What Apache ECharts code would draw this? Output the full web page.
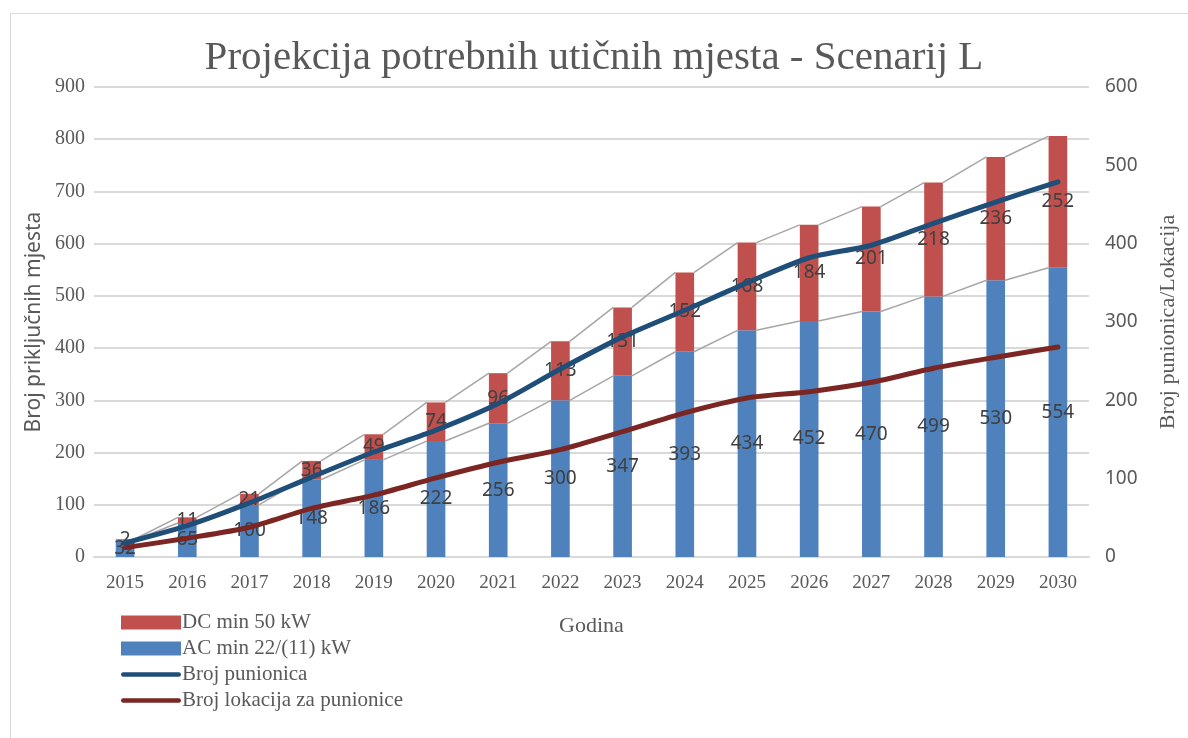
<!DOCTYPE html>
<html>
<head>
<meta charset="utf-8">
<script src="https://cdn.jsdelivr.net/npm/echarts@6/dist/echarts.min.js"></script>
<style>
html,body{margin:0;padding:0;background:#fff;}
#chart{width:1188px;height:738px;}
</style>
</head>
<body>
<div id="chart"></div>
<script>
const years = ['2015','2016','2017','2018','2019','2020','2021','2022','2023','2024','2025','2026','2027','2028','2029','2030'];
const acValues = [32,65,100,148,186,222,256,300,347,393,434,452,470,499,530,554];
const dcValues = [2,11,21,36,49,74,96,113,131,152,168,184,201,218,236,252];
const punioniceValues = [18,40,69,102,134,162,196,240,281,315,350,382,398,426,453,479];
const lokacijeValues = [12,24,38,62,79,101,121,137,160,184,203,211,223,241,255,268];
const leftTicks = [0,100,200,300,400,500,600,700,800,900];
const rightTicks = [0,100,200,300,400,500,600];

const totals = acValues.map((v,i)=>v+dcValues[i]);
const seriesLineData = years.slice(0,-1).map((y,i)=>[i, acValues[i], totals[i], acValues[i+1], totals[i+1]]);
const BAR_FRAC = 0.30;

const chart = echarts.init(document.getElementById('chart'));
const serif = 'Liberation Serif';
const grey = '#595959';
const lineIcon = 'path://M4.5,0 L115.5,0 A4.5,4.5 0 0 1 115.5,9 L4.5,9 A4.5,4.5 0 0 1 4.5,0 Z';

chart.setOption({
  animation:false,
  backgroundColor:'#fff',
  graphic:[{type:'rect',shape:{x:10.5,y:13.5,width:1200,height:800},style:{fill:'none',stroke:'#d9d9d9',lineWidth:1},silent:true,z:-10}],
  title:{text:'Projekcija potrebnih utičnih mjesta - Scenarij L',left:'center',top:33,
    textStyle:{fontFamily:serif,fontSize:41,fontWeight:'normal',color:grey}},
  grid:{left:94,right:99,top:87,bottom:181},
  legend:{orient:'vertical',left:116,top:607,itemWidth:60,itemHeight:14,itemGap:5,symbolKeepAspect:true,
    data:[{name:'DC min 50 kW',icon:'rect'},{name:'AC min 22/(11) kW',icon:'rect'},
          {name:'Broj punionica',icon:lineIcon},{name:'Broj lokacija za punionice',icon:lineIcon}],
    textStyle:{fontFamily:serif,fontSize:21,color:grey,padding:[0,0,0,-4]}},
  xAxis:{type:'category',data:years,
    axisLine:{lineStyle:{color:'#d9d9d9',width:2}},axisTick:{show:false},
    axisLabel:{fontFamily:serif,fontSize:19,color:grey,margin:17},
    name:'Godina',nameLocation:'middle',nameGap:58,
    nameTextStyle:{fontFamily:serif,fontSize:22,color:grey}},
  yAxis:[
    {type:'value',min:leftTicks[0],max:leftTicks[leftTicks.length-1],interval:leftTicks[1]-leftTicks[0],
     axisLabel:{fontFamily:serif,fontSize:20,color:grey,margin:9},
     splitLine:{lineStyle:{color:'#d9d9d9',width:2}},axisLine:{show:false},axisTick:{show:false},
     name:'Broj priključnih mjesta',nameLocation:'middle',nameGap:44,
     nameTextStyle:{fontFamily:'Noto Sans',fontSize:21,color:grey}},
    {type:'value',min:rightTicks[0],max:rightTicks[rightTicks.length-1],interval:rightTicks[1]-rightTicks[0],
     axisLabel:{fontFamily:'Noto Sans',fontSize:19,color:grey,margin:16},
     splitLine:{show:false},axisLine:{show:false},axisTick:{show:false},
     name:'Broj punionica/Lokacija',nameLocation:'middle',nameGap:68,nameRotate:90,
     nameTextStyle:{fontFamily:serif,fontSize:22,color:grey}}
  ],
  series:[
    {name:'AC min 22/(11) kW',type:'bar',stack:'s',data:acValues,barWidth:(BAR_FRAC*100)+'%',
     itemStyle:{color:'#4f81bd'},
     label:{show:true,position:'inside',fontFamily:'Noto Sans',fontSize:19,color:'#404040'}},
    {name:'DC min 50 kW',type:'bar',stack:'s',data:dcValues,
     itemStyle:{color:'#c0504d'},
     label:{show:true,position:'inside',fontFamily:'Noto Sans',fontSize:19,color:'#404040'}},
    {type:'custom',data:seriesLineData,encode:{x:0,y:1},z:3,silent:true,
     renderItem:function(params,api){
       const i = api.value(0);
       const bw = api.size([1,0])[0]*BAR_FRAC;
       const a1 = api.coord([i, api.value(1)]), a2 = api.coord([i+1, api.value(3)]);
       const t1 = api.coord([i, api.value(2)]), t2 = api.coord([i+1, api.value(4)]);
       const st = {stroke:'#a6a6a6',lineWidth:1.5};
       return {type:'group',children:[
         {type:'line',shape:{x1:a1[0]+bw/2,y1:a1[1],x2:a2[0]-bw/2,y2:a2[1]},style:st},
         {type:'line',shape:{x1:t1[0]+bw/2,y1:t1[1],x2:t2[0]-bw/2,y2:t2[1]},style:st}
       ]};
     }},
    {name:'Broj punionica',type:'line',yAxisIndex:1,data:punioniceValues,symbol:'none',smooth:0.25,z:5,
     lineStyle:{color:'#1f4e79',width:5,cap:'round'},itemStyle:{color:'#1f4e79'}},
    {name:'Broj lokacija za punionice',type:'line',yAxisIndex:1,data:lokacijeValues,symbol:'none',smooth:0.25,z:5,
     lineStyle:{color:'#7b2623',width:5,cap:'round'},itemStyle:{color:'#7b2623'}}
  ]
});
</script>
</body>
</html>
